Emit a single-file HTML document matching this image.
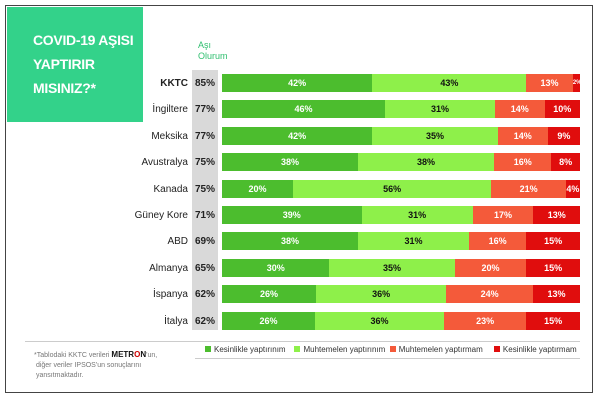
<!DOCTYPE html><html><head><style>
body{margin:0;width:600px;height:400px;background:#fff;font-family:"Liberation Sans",sans-serif;position:relative;overflow:hidden}
.a{position:absolute}
.bar{position:absolute;height:18px;display:flex;left:222px;width:358px;font-size:9px;line-height:18px;font-weight:bold}
.bar div{text-align:center;overflow:hidden;white-space:nowrap}
.c1{background:#4cbd2e;color:#fff}.c2{background:#8ef04a;color:#111}.c3{background:#f45a3a;color:#fff}.c4{background:#e00d0d;color:#fff}
.lab{position:absolute;right:412px;font-size:10px;color:#222;text-align:right}
.pct{position:absolute;left:192px;width:26px;font-size:10px;font-weight:bold;color:#222;text-align:center}
.lg{display:inline-block;width:6px;height:6px;margin-right:3px}
</style></head><body>
<div class="a" style="left:5px;top:5px;width:586px;height:386px;border:1.5px solid #444"></div>
<div class="a" style="left:7px;top:7px;width:136px;height:115px;background:#33d28a"></div>
<div class="a" style="left:33px;top:28px;color:#fff;font-size:14px;font-weight:bold;line-height:24px;letter-spacing:-0.3px">COVID-19 AŞISI<br>YAPTIRIR<br>MISINIZ?*</div>
<div class="a" style="left:192px;top:40px;width:40px;color:#2fbf6f;font-size:9px;line-height:11px;padding-left:6px">Aşı<br>Olurum</div>
<div class="a" style="left:192px;top:70px;width:26px;height:260px;background:#d9d9d9"></div>
<div id="rows"></div>
<div class="a" style="left:25px;top:341px;width:555px;height:1px;background:#ccc"></div>
<div class="a" style="left:195px;top:358px;width:385px;height:1px;background:#ccc"></div>
<div class="a" style="left:205px;top:345px;font-size:8px;color:#333;white-space:nowrap">
<span class="lg" style="background:#4cbd2e"></span>Kesinlikle yaptırınım&nbsp;&nbsp;&nbsp;&nbsp;<span class="lg" style="background:#8ef04a"></span>Muhtemelen yaptırınım&nbsp;&nbsp;<span class="lg" style="background:#f45a3a"></span>Muhtemelen yaptırmam&nbsp;&nbsp;&nbsp;&nbsp;&nbsp;<span class="lg" style="background:#e00d0d"></span>Kesinlikle yaptırmam</div>
<div class="a" style="left:34px;top:350px;font-size:7px;color:#777;line-height:10px">*Tablodaki KKTC verileri <b style="color:#111;font-size:8px">METR<span style="color:#c00">O</span>N</b>'un,<br>&nbsp;diğer veriler IPSOS'un sonuçlarını<br>&nbsp;yansıtmaktadır.</div>
<script>
var d=[["KKTC",85,[42,43,13,2]],["İngiltere",77,[46,31,14,10]],["Meksika",77,[42,35,14,9]],["Avustralya",75,[38,38,16,8]],["Kanada",75,[20,56,21,4]],["Güney Kore",71,[39,31,17,13]],["ABD",69,[38,31,16,15]],["Almanya",65,[30,35,20,15]],["İspanya",62,[26,36,24,13]],["İtalya",62,[26,36,23,15]]];
var h="";d.forEach(function(r,i){var t=74+i*26.4;
h+='<div class="lab" style="top:'+(t+4)+'px;'+(i==0?'font-weight:bold':'')+'">'+r[0]+'</div>';
h+='<div class="pct" style="top:'+(t+4)+'px">'+r[1]+'%</div><div class="bar" style="top:'+t+'px">';
var s=r[2].reduce(function(a,b){return a+b},0);
r[2].forEach(function(v,j){h+='<div class="c'+(j+1)+'" style="width:'+(v/s*358)+'px;'+(v<3?'font-size:6px':'')+'">'+v+'%</div>'});h+='</div>';});
document.getElementById("rows").innerHTML=h;
</script>
</body></html>
